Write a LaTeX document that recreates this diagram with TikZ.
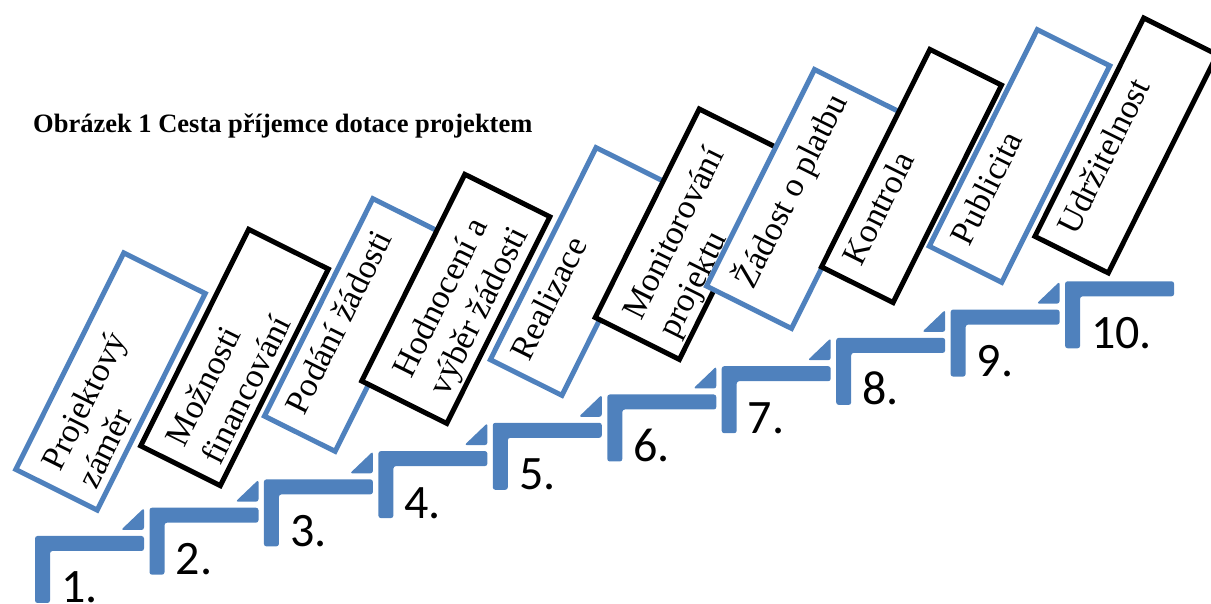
\documentclass[tikz,border=0pt]{standalone}
\usepackage{fontspec}
\setmainfont{Liberation Serif}
\newfontfamily\numfont{Carlito}
\begin{document}
\begin{tikzpicture}[x=1pt,y=1pt,
    bluebox/.style={draw=stepblue,fill=white,line width=5pt,inner sep=0pt,transform shape},
    blackbox/.style={draw=black,fill=white,line width=5pt,inner sep=0pt,transform shape},
    boxtext/.style={anchor=west,align=left,inner sep=0pt,transform shape,font=\fontsize{34}{40}\selectfont},
    stair/.style={fill=stepblue,rounded corners=2.5pt},
    num/.style={anchor=base west,inner sep=0pt,font=\numfont\fontsize{48}{50}\selectfont}]
            \definecolor{stepblue}{RGB}{79,129,189}
            \useasboundingbox (0,0) rectangle (1211,604);
            \clip (0,0) rectangle (1211,604);
            \node[anchor=base west,inner sep=0pt,font=\bfseries\fontsize{26.5}{30}\selectfont] (title) at (33,471) {Obrázek 1 Cesta příjemce dotace projektem};
            % stages, each one laid over the one before
            \begin{scope}[shift={(110.5,222.5)},rotate=63.5]
                \node[bluebox,minimum width=242pt,minimum height=91pt] (b1) at (0,0) {};
                \node[boxtext] (t1) at (-104,-8) {\strut Projektový\\\strut záměr};
            \end{scope}
            \begin{scope}[shift={(234.5,246.5)},rotate=63.5]
                \node[blackbox,minimum width=242pt,minimum height=89pt] (b2) at (0,0) {};
                \node[boxtext] (t2) at (-104,-8) {\strut Možnosti\\\strut financování};
            \end{scope}
            \begin{scope}[shift={(354,279)},rotate=63.5]
                \node[bluebox,minimum width=243pt,minimum height=79pt] (b3) at (0,0) {};
                \node[boxtext] (t3) at (-104,12) {\strut Podání žádosti};
            \end{scope}
            \begin{scope}[shift={(455.8,305.1)},rotate=63.5]
                \node[blackbox,minimum width=231pt,minimum height=95pt] (b4) at (0,0) {};
                \node[boxtext] (t4) at (-92,-8) {\strut Hodnocení a\\\strut výběr žádosti};
            \end{scope}
            \begin{scope}[shift={(579,332.5)},rotate=63.5]
                \node[bluebox,minimum width=237pt,minimum height=80pt] (b5) at (0,0) {};
                \node[boxtext] (t5) at (-104,12) {\strut Realizace};
            \end{scope}
            \begin{scope}[shift={(689.3,369.8)},rotate=63.5]
                \node[blackbox,minimum width=233pt,minimum height=94pt] (b6) at (0,0) {};
                \node[boxtext] (t6) at (-100,-8) {\strut Monitorování\\\strut projektu};
            \end{scope}
            \begin{scope}[shift={(803,405)},rotate=63.5]
                \node[bluebox,minimum width=242pt,minimum height=95pt] (b7) at (0,0) {};
                \node[boxtext] (t7) at (-104,12) {\strut Žádost o platbu};
            \end{scope}
            \begin{scope}[shift={(911.5,428)},rotate=63.5]
                \node[blackbox,minimum width=243pt,minimum height=80pt] (b8) at (0,0) {};
                \node[boxtext] (t8) at (-104,12) {\strut Kontrola};
            \end{scope}
            \begin{scope}[shift={(1019.5,448)},rotate=63.5]
                \node[bluebox,minimum width=242pt,minimum height=81pt] (b9) at (0,0) {};
                \node[boxtext] (t9) at (-104,12) {\strut Publicita};
            \end{scope}
            \begin{scope}[shift={(1126,458.5)},rotate=63.5]
                \node[blackbox,minimum width=244pt,minimum height=82pt] (b10) at (0,0) {};
                \node[boxtext] (t10) at (-104,12) {\strut Udržitelnost};
            \end{scope}
            % steps
            \fill[stair] (35,68) -- ++(109,0) -- ++(0,-15) -- ++(-94,0) -- ++(0,-52) -- ++(-15,0) -- cycle;
            \fill[stair] (149.5,96.3) -- ++(109,0) -- ++(0,-15) -- ++(-94,0) -- ++(0,-52) -- ++(-15,0) -- cycle;
            \fill[stair] (263.9,124.6) -- ++(109,0) -- ++(0,-15) -- ++(-94,0) -- ++(0,-52) -- ++(-15,0) -- cycle;
            \fill[stair] (378.4,152.9) -- ++(109,0) -- ++(0,-15) -- ++(-94,0) -- ++(0,-52) -- ++(-15,0) -- cycle;
            \fill[stair] (492.8,181.2) -- ++(109,0) -- ++(0,-15) -- ++(-94,0) -- ++(0,-52) -- ++(-15,0) -- cycle;
            \fill[stair] (607.3,209.5) -- ++(109,0) -- ++(0,-15) -- ++(-94,0) -- ++(0,-52) -- ++(-15,0) -- cycle;
            \fill[stair] (721.7,237.8) -- ++(109,0) -- ++(0,-15) -- ++(-94,0) -- ++(0,-52) -- ++(-15,0) -- cycle;
            \fill[stair] (836.2,266.1) -- ++(109,0) -- ++(0,-15) -- ++(-94,0) -- ++(0,-52) -- ++(-15,0) -- cycle;
            \fill[stair] (950.6,294.4) -- ++(109,0) -- ++(0,-15) -- ++(-94,0) -- ++(0,-52) -- ++(-15,0) -- cycle;
            \fill[stair] (1065.1,322.7) -- ++(109,0) -- ++(0,-15) -- ++(-94,0) -- ++(0,-52) -- ++(-15,0) -- cycle;
            % corner wedges
            \fill[stair] (121,74) -- ++(23,0) -- ++(0,22) -- cycle;
            \fill[stair] (235.5,102.3) -- ++(23,0) -- ++(0,22) -- cycle;
            \fill[stair] (349.9,130.6) -- ++(23,0) -- ++(0,22) -- cycle;
            \fill[stair] (464.4,158.9) -- ++(23,0) -- ++(0,22) -- cycle;
            \fill[stair] (578.8,187.2) -- ++(23,0) -- ++(0,22) -- cycle;
            \fill[stair] (693.3,215.5) -- ++(23,0) -- ++(0,22) -- cycle;
            \fill[stair] (807.7,243.8) -- ++(23,0) -- ++(0,22) -- cycle;
            \fill[stair] (922.2,272.1) -- ++(23,0) -- ++(0,22) -- cycle;
            \fill[stair] (1036.6,300.4) -- ++(23,0) -- ++(0,22) -- cycle;
            % numbers
            \node[num] (n1) at (61,1) {1.};
            \node[num] (n2) at (175.5,29.3) {2.};
            \node[num] (n3) at (289.9,57.6) {3.};
            \node[num] (n4) at (404.4,85.9) {4.};
            \node[num] (n5) at (518.8,114.2) {5.};
            \node[num] (n6) at (633.3,142.5) {6.};
            \node[num] (n7) at (747.7,170.8) {7.};
            \node[num] (n8) at (862.2,199.1) {8.};
            \node[num] (n9) at (976.6,227.4) {9.};
            \node[num] (n10) at (1091.1,255.7) {10.};
        \end{tikzpicture}
\end{document}
